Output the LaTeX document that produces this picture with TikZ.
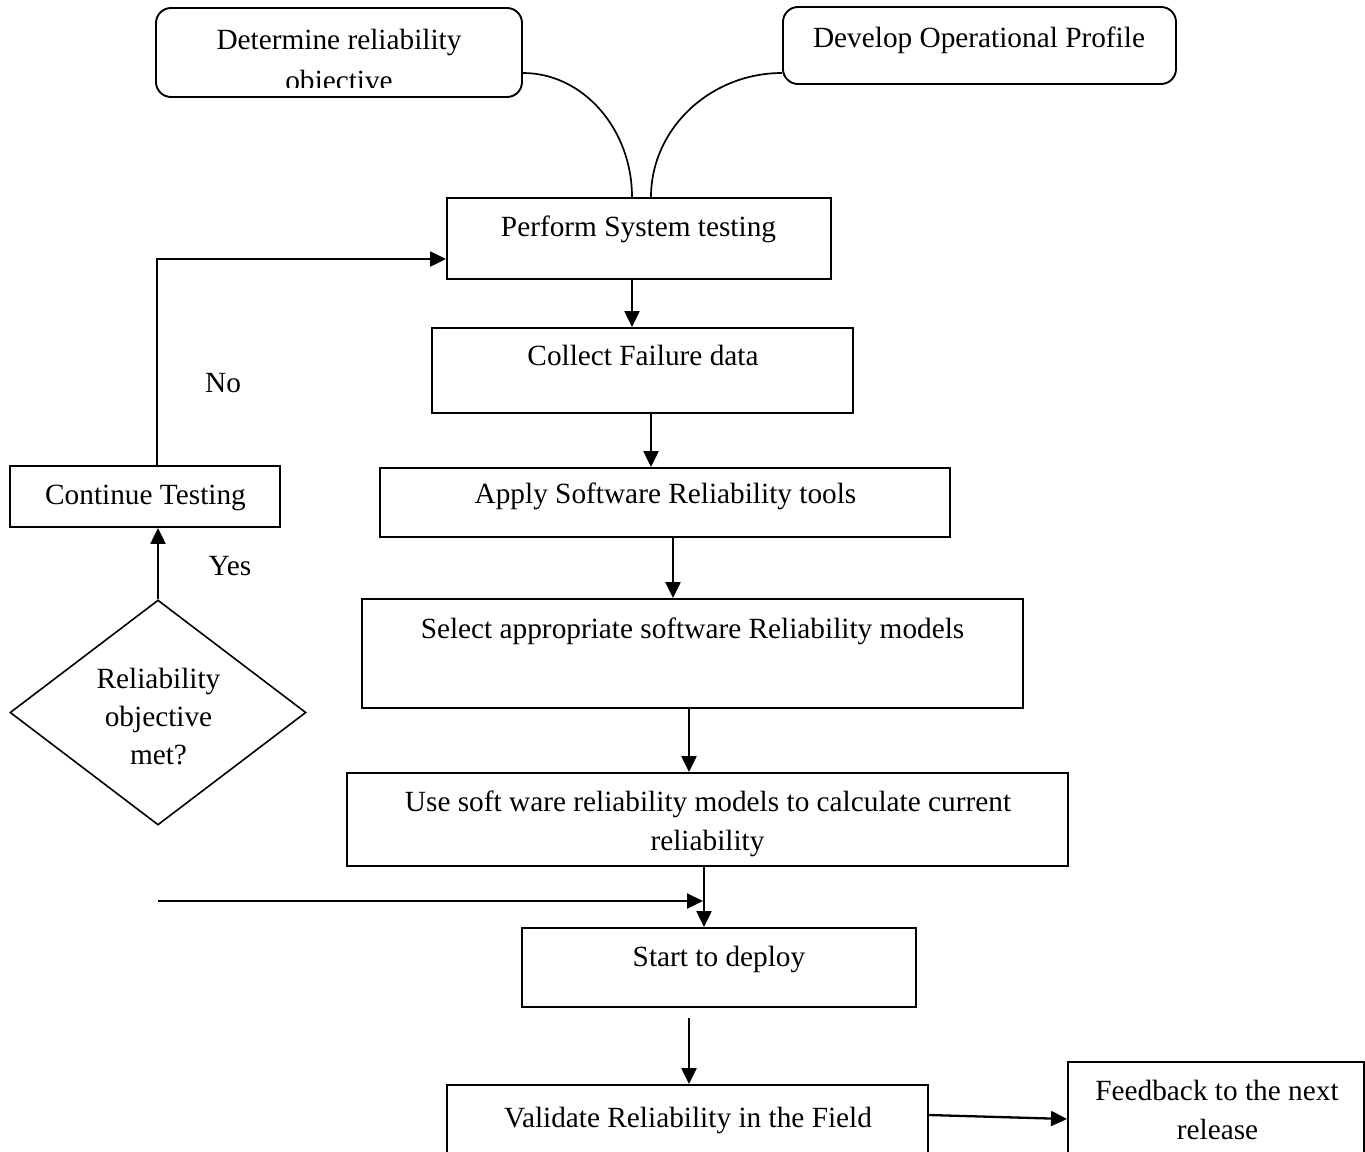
\documentclass[tikz,border=0pt]{standalone}
\usepackage{fontspec}
\setmainfont{Liberation Serif}
\usetikzlibrary{arrows.meta,shapes.geometric}
\begin{document}
\begin{tikzpicture}[x=1pt,y=-1pt,
  boxstyle/.style={draw, rectangle, line width=1.9pt, inner sep=0pt},
  rbox/.style={boxstyle, rounded corners=15pt},
  txt/.style={font=\fontsize{29.3}{39}\selectfont, inner sep=0pt, anchor=base},
  conn/.style={line width=2.3pt, -{Triangle[length=16pt,width=15pt]}},
  curvy/.style={line width=1.7pt}]
\clip (0,0) rectangle (1365,1151);
\fill[white] (0,0) rectangle (1365,1151);
% boxes
\node[rbox, minimum width=366pt, minimum height=89pt] (det) at (339,52.5) {};
\node[rbox, minimum width=393pt, minimum height=77pt] (dev) at (979.5,45.5) {};
\node[boxstyle, minimum width=384pt, minimum height=81pt] (perf) at (639,238.5) {};
\node[boxstyle, minimum width=421pt, minimum height=85pt] (coll) at (642.5,370.5) {};
\node[boxstyle, minimum width=270pt, minimum height=61pt] (cont) at (145,496.5) {};
\node[boxstyle, minimum width=570pt, minimum height=69pt] (apply) at (665,502.5) {};
\node[boxstyle, minimum width=661pt, minimum height=109pt] (sel) at (692.5,653.5) {};
\node[draw, diamond, line width=1.6pt, inner sep=0pt, minimum width=296pt, minimum height=225pt] (dia) at (158,712.5) {};
\node[boxstyle, minimum width=721pt, minimum height=93pt] (use) at (707.5,819.5) {};
\node[boxstyle, minimum width=394pt, minimum height=79pt] (start) at (719,967.5) {};
\node[boxstyle, minimum width=481pt, minimum height=90pt] (val) at (687.5,1130) {};
\node[boxstyle, minimum width=296pt, minimum height=118pt] (fb) at (1216,1121) {};
% texts
\node[txt] (t1a) at (339,49) {Determine reliability};
\begin{scope}
\clip (150,0) rectangle (530,87);
\node[txt] (t1b) at (339,90) {objective};
\end{scope}
\node[txt] (t2) at (979,47) {Develop Operational Profile};
\node[txt] (t3) at (638.5,236) {Perform System testing};
\node[txt] (t4) at (643,365) {Collect Failure data};
\node[txt] (t5) at (145.5,504) {Continue Testing};
\node[txt] (t6) at (665.5,503) {Apply Software Reliability tools};
\node[txt] (t7) at (692.5,638) {Select appropriate software Reliability models};
\node[txt] (t8a) at (158.5,688) {Reliability};
\node[txt] (t8b) at (158.5,726) {objective};
\node[txt] (t8c) at (158.5,764) {met?};
\node[txt] (t9a) at (708,811) {Use soft ware reliability models to calculate current};
\node[txt] (t9b) at (707.5,850) {reliability};
\node[txt] (t10) at (719,966) {Start to deploy};
\node[txt] (t11) at (688,1127) {Validate Reliability in the Field};
\node[txt] (t12a) at (1217,1100) {Feedback to the next};
\node[txt] (t12b) at (1217.5,1139) {release};
\node[txt] (no) at (223,392) {No};
\node[txt] (yes) at (230,575) {Yes};
% curves
\draw[curvy] (det.east |- 0,73) .. controls (583,73) and (632,129) .. (perf.north -| 632,0);
\draw[curvy] (dev.west |- 0,73) .. controls (710,73) and (651,129) .. (perf.north -| 651,0);
% connectors
\draw[conn] (perf.south -| 632,0) -- (coll.north -| 632,0);
\draw[conn] (coll.south -| 651,0) -- (apply.north -| 651,0);
\draw[conn] (apply.south -| 673,0) -- (sel.north -| 673,0);
\draw[conn] (sel.south -| 689,0) -- (use.north -| 689,0);
\draw[conn] (use.south -| 704,0) -- (start.north -| 704,0);
\coordinate (s1) at (689,1018);
\draw[conn] (s1) -- (val.north -| s1);
\draw[conn] (cont.north -| 157,0) |- (perf.west |- 0,259);
\draw[conn] (dia.north) -- (cont.south -| dia.north);
\coordinate (h1) at (158,901);
\coordinate (h2) at (703,901);
\draw[conn] (h1) -- (h2);
\draw[conn] (val.east |- 0,1115) -- (fb.west |- 0,1119);
\end{tikzpicture}
\end{document}
